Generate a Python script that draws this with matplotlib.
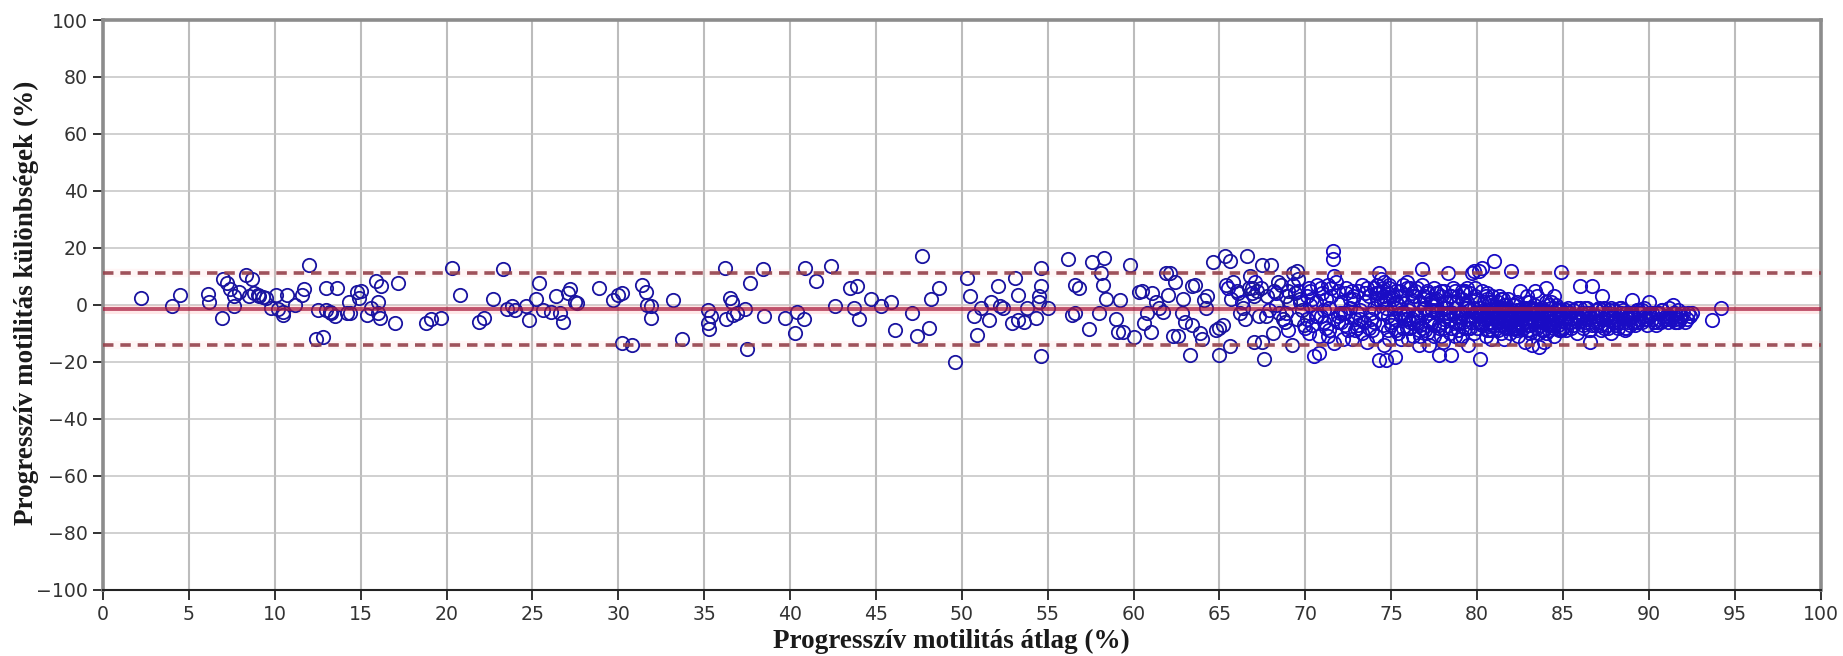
import matplotlib
matplotlib.use("Agg")
import matplotlib.pyplot as plt

x_a = [2.2,4.0,4.5,6.1,6.2,6.9,7.0,7.2,7.4,7.6,
       7.6,7.9,8.3,8.5,8.7,8.8,9.0,9.1,9.3,9.5,
       9.8,10.1,10.2,10.5,10.5,10.7,11.2,11.6,11.7,12.0,
       12.4,12.5,12.8,13.0,13.0,13.2,13.3,13.5,13.6,14.2,
       14.3,14.4,14.8,14.9,15.0,15.4,15.6,15.9,16.0,16.0,
       16.1,16.2,17.0,17.2,18.8,19.1,19.7]
y_a = [2.5,-0.5,3.5,3.8,1.0,-4.5,9.0,7.5,5.5,3,
       -0.5,4.5,10.5,3,9,4,3.3,3,2.8,2.5,
       -1,3.5,-1.5,-3.5,-2.5,3.5,0,3.5,5.5,14,
       -12,-2,-11.5,6,-2,-2.5,-3,-4,6,-3,
       1,-3,4.5,2.5,5,-3.5,-1,8.5,1,-3,
       -4.5,6.5,-6.5,7.5,-6.5,-5,-4.5]

x_b = [20.3,20.8,21.9,22.2,22.7,23.3,23.5,23.8,24.0,24.6,
       24.8,25.2,25.4,25.6,26.1,26.4,26.6,26.8,27.1,27.2,
       27.5,27.6,28.9,29.7,30.0,30.2,30.2,30.8,31.4,31.6,
       31.7,31.9,31.9,33.2,33.7,35.2,35.2,35.3,35.4,36.2,
       36.3,36.5,36.6,36.7,36.9,37.4,37.5,37.7,38.4,38.5,
       39.7,40.3,40.4,40.8,40.9,41.5,42.4,42.6,43.5,43.7,
       43.9,44.0,44.7]
y_b = [13,3.5,-6,-4.5,2,12.5,-1.5,-0.5,-2,-0.5,
       -5.5,2,7.5,-2,-2.5,3,-3,-6,4,5.5,
       1,0.5,6,1.5,3.5,4,-13.5,-14,7,4.5,
       0,-4.5,-0.5,1.5,-12,-2,-6.5,-8.5,-4,13,
       -5,2.5,1,-3.5,-3,-1.5,-15.5,7.5,12.5,-4,
       -4.5,-10,-2.5,-5,13,8.5,13.5,-0.5,6,-1,
       6.5,-5,2]

x_c = [45.3,45.9,46.1,47.1,47.4,47.7,48.1,48.2,48.7,49.6,
       50.3,50.5,50.7,50.9,51.1,51.6,51.7,52.1,52.2,52.4,
       52.9,53.1,53.3,53.3,53.6,53.8,54.3,54.5,54.5,54.6,
       54.6,54.6,55.0,56.2,56.4,56.6,56.6,56.8,57.4,57.6,
       58.0,58.1,58.2,58.3,58.4,59.0,59.1,59.2,59.4,59.8]
y_c = [-0.5,1,-9,-3,-11,17,-8,2,6,-20,
       9.5,3,-4,-10.5,-1,-5.5,1,6.5,-0.5,-1,
       -6.5,9.5,-5.5,3.5,-6,-1,-4.5,1,3,13,
       6.5,-18,-1,16,-3.5,7,-3,6,-8.5,15,
       -3,11,7,16.5,2,-5,-9.5,1.5,-9.5,14]

x_d = [60.0,60.3,60.5,60.6,60.8,61.0,61.1,61.3,61.5,61.7,
       61.9,62.0,62.1,62.3,62.4,62.6,62.8,62.9,63.0,63.3,
       63.4,63.4,63.6,63.9,64.0,64.1,64.2,64.3,64.6,64.8,
       65.0,65.0,65.2,65.3,65.6,65.6,65.8,66.0,66.2,66.5,
       66.6,66.8,66.9,67.0,67.2,67.3,67.5,67.5,67.6,67.8,
       68.0,68.1,68.3,68.5,68.6,68.9,69.0,69.2,69.3,69.5,
       69.5,69.7,69.9,65.4,65.7,66.1,66.4,66.7,67.0,67.4,
       67.7,68.2,68.4,68.7,69.1,69.4,69.6,69.8,66.9,68.8]
y_d = [-11.5,4.5,5,-6.5,-3,-9.5,4,1,-1,-2.5,
       11,3.5,11,-11,8,-11,-3,2,-6,-17.5,
       -7,6.5,7,-10,-12,1.5,-1,3,15,-9,
       -8,-17.5,-7,17,15.5,-14.5,8,5,-3,-5,
       17,10,6,-13,5,-4,14,-13,-19,3,
       14,-10,0,-3,7,3,5,-14,11,12,
       -5,2,-7,7,2,4,-1,6,3,6,
       -4,5,8,-5,1,4,9,-2,4,-6]

x_e = [70.0,70.1,70.2,70.3,70.4,70.5,70.6,70.7,70.8,70.9,
       71.0,71.1,71.2,71.3,71.4,71.5,71.6,71.6,71.7,71.7,
       71.8,71.9,72.0,72.1,72.2,72.3,72.4,72.5,72.6,72.7,
       72.8,72.9,73.0,73.1,73.2,73.3,73.4,73.5,73.6,73.7,
       73.8,73.9,74.0,74.1,74.2,74.2,74.3,74.3,74.4,74.4,
       74.5,74.5,74.6,74.6,74.7,74.7,74.8,74.8,74.9,74.9,
       70.3,70.7,71.2,71.9,72.3,72.8,73.2,73.7,74.1,74.4,
       70.1,70.9,71.4,72.1,72.6,73.0,73.5,74.0,74.6,74.8]
y_e = [-8,3,-10,5,-7,-18,1,7,-17,-4,
       4,-6,2,-11,-1,6,19,16,10,-13.5,
       8,-4,-3,1,-12,-7,4,-9,-1,-12,
       3,-5,-8,5,-2,-10,-6,1,-13,3,
       -5,-9,6,-11,7,2,11,-19.5,9,-3,
       5,-7,8,-14,-1,-19.5,4,-9,6,-12,
       0,-4,-8,5,-3,2,-5,-8,4,1,
       -5,6,-9,-6,2,-3,4,-6,3,-4]

x_f = [75.0,75.1,75.2,75.3,75.4,75.5,75.6,75.7,75.8,75.9,
       76.0,76.1,76.2,76.3,76.4,76.5,76.6,76.7,76.8,76.9,
       77.0,77.1,77.2,77.3,77.4,77.5,77.6,77.7,77.8,77.9,
       78.0,78.1,78.2,78.3,78.4,78.5,78.6,78.7,78.8,78.9,
       79.0,79.1,79.2,79.3,79.4,79.5,79.6,79.7,79.8,79.9,
       75.2,75.6,75.9,76.2,76.5,76.8,77.1,77.4,77.7,78.0,
       78.3,78.6,78.9,79.2,79.5,79.8,75.3,75.8,76.3,76.6,
       76.9,77.2,77.6,77.9,78.2,78.5,78.8,79.1,79.4,79.7,
       75.4,75.7,76.1,76.4,76.7,77.0,77.3,77.5,77.8,78.1,
       78.4,78.7,79.0,79.3,79.6,79.9,76.0,77.0,78.0,79.0]
y_f = [-7,3,-18.5,1,-10,5,-12,7,-5,8,
       -2,-8,4,-11,-4,6,-14,-7,12.5,-1,
       -9,5,-14,2,-6,-11,4,-3,-17.5,3,
       -8,5,-4,11,-10,-17.5,6,-1,-6,3,
       -12,5,-3,-8,6,-14,-2,11,-10,3,
       -5,3,-8,1,-4,7,-10,-2,4,-6,
       -3,1,-9,4,-5,12,-9,-4,3,-9,
       2,-6,0,-11,-1,-8,-4,-11,1,-6,
       0,-3,-6,5,-11,-1,-5,6,-8,-1,
       3,-11,-4,-1,-8,-3,-12,-4,-13,-6]

x_g = [80.0,80.1,80.2,80.3,80.4,80.5,80.6,80.7,80.8,80.9,
       81.0,81.1,81.2,81.3,81.4,81.5,81.6,81.7,81.8,81.9,
       82.0,82.1,82.2,82.3,82.4,82.5,82.6,82.7,82.8,82.9,
       83.0,83.1,83.2,83.3,83.4,83.5,83.6,83.7,83.8,83.9,
       84.0,84.1,84.2,84.3,84.4,84.5,84.6,84.7,84.8,84.9,
       80.2,80.5,80.8,81.1,81.4,81.7,82.0,82.3,82.6,82.9,
       83.2,83.5,83.8,84.1,84.4,84.7,80.4,80.9,81.3,81.8,
       82.2,82.7,83.1,83.6,84.0,84.5,80.1,80.7,81.2,81.6,
       82.1,82.5,83.0,83.4,83.9,84.3,84.8,80.3,80.6,81.0,
       81.5,81.9,82.4,82.8,83.3,83.7,84.2,84.6,84.9,81.1,
       81.6,82.2,82.7,83.2,83.7,84.2,84.7,80.5,81.0,81.5,
       82.0,82.5,83.0,83.5,84.0,84.5,80.8,81.4,82.3,83.4]
y_g = [-8,12,-19,13,-3,-11,4,-6,-12,1,
       15.5,-4,-9,3,-1,-7,-12,-3,2,-10,
       12,-5,0,-2,-11,5,-7,-1,-13,3,
       -5,-9,-14,0,5,-3,-15,-7,-1,-13,
       6,-4,-9,1,-6,-11,-2,-7,-4,11.5,
       -1,3,-6,-2,2,-8,-4,1,-5,-9,
       -2,3,-6,-3,-8,-1,-5,-9,-2,-6,
       -3,-8,-1,-5,-10,-3,-4,1,-6,0,
       -8,-3,-7,-2,-6,-1,-5,-7,-2,-5,
       -2,-7,-4,-1,-6,-3,-7,-5,-2,-3,
       -5,-7,-3,-5,-4,-3,-6,-4,-7,-4,
       -2,-6,-3,-8,-4,-7,-3,-6,-5,-2]

x_h = [85.0,85.1,85.2,85.3,85.4,85.5,85.6,85.7,85.8,85.9,
       86.0,86.1,86.2,86.3,86.4,86.5,86.6,86.7,86.8,86.9,
       87.0,87.1,87.2,87.3,87.4,87.5,87.6,87.7,87.8,87.9,
       88.0,88.1,88.2,88.3,88.4,88.5,88.6,88.7,88.8,88.9,
       89.0,89.1,89.2,89.3,89.4,89.5,89.6,89.7,89.8,89.9,
       90.0,90.2,90.4,90.5,90.7,90.8,91.0,91.1,91.2,91.3,
       91.4,91.5,91.6,91.7,91.8,91.9,92.0,92.1,92.2,92.3,
       92.4,92.5,93.7,94.2,85.3,85.8,86.4,87.0,87.6,88.2,
       88.8,89.4,90.1,90.6,91.0,91.5,91.9,86.0,87.3,88.5]
y_h = [-3,-6,-9,-1,-5,-8,-2,-4,-10,-6,
       6.5,-3,-8,-1,-5,-9,-13,6.5,-4,-7,
       -2,-6,-9,3,-1,-5,-8,-3,-10,-6,
       -2,-5,-8,-4,-1,-6,-9,-3,-5,-7,
       1.5,-4,-7,-2,-5,-3,-6,-1,-4,-7,
       1,-5,-7,-3,-6,-2,-4,-6,-1,-5,
       0,-3,-6,-2,-5,-4,-3,-6,-5,-3,
       -4,-3,-5.5,-1,-4,-5,-3,-6,-4,-6,
       -4,-6,-4,-5,-5,-5,-4,-5,-5,-5]

# Second pass over the crowded core, where circles overlap into solid blue
x_i = [65.5,66.3,67.1,67.9,68.3,68.9,69.3,69.7,70.2,70.6,
       71.1,71.5,71.9,72.4,72.9,73.3,73.8,74.2,74.6,75.0,
       69.0,69.6,70.4,70.8,71.3,71.7,72.2,72.7,73.1,73.6,
       74.0,74.3,74.5,74.7,74.9,75.3,75.7,76.1,76.5,76.9,
       75.1,75.5,75.9,76.3,76.7,77.1,77.5,77.9,78.3,78.7,
       79.1,79.5,79.9,77.3,77.7,78.1,78.5,78.9,79.3,79.7,
       75.2,75.6,76.0,76.4,76.8,77.2,77.6,78.0,78.4,78.8,
       79.2,79.6,80.0,80.3,80.6,80.9,81.2,81.5,81.8,82.1,
       82.4,82.7,83.0,83.3,83.6,83.9,84.2,84.5,84.8,85.1,
       80.1,80.4,80.7,81.0,81.3,81.6,81.9,82.2,82.5,82.8,
       83.1,83.4,83.7,84.0,84.3,84.6,84.9,85.2,85.5,85.8,
       80.2,80.5,80.8,81.1,81.4,81.7,82.0,82.3,82.6,82.9,
       83.2,83.5,83.8,84.1,84.4,84.7,85.0,85.3,85.6,85.9,
       80.0,80.6,81.2,81.8,82.4,83.0,83.6,84.2,84.8,85.4,
       86.0,86.3,86.6,86.9,87.2,87.5,87.8,88.1,88.4,88.7,
       86.1,86.4,86.7,87.0,87.3,87.6,87.9,88.2,88.5,88.8,
       86.2,86.5,86.8,87.1,87.4,87.7,88.0,88.3,88.6,88.9,
       89.0,89.3,89.6,89.9,90.2,90.5,90.8,91.1,91.4,91.7,
       89.1,89.4,89.7,90.0,90.3,90.6,90.9,91.2,91.5,91.8,
       77.4,78.2,79.0,79.8,80.6,81.4,82.2,83.0,83.8,84.6,
       76.2,77.0,77.8,78.6,79.4,80.2,81.0,81.8,82.6,83.4]
y_i = [6,1,8,-2,4,-3,7,1,6,-4,
       -2,3,-6,6,-9,7,-3,4,1,-6,
       -9,5,2,-11,7,-5,-3,5,-7,6,
       -1,4,6,2,7,5,-8,6,-6,3,
       2,-3,6,-6,1,4,-7,5,-3,5,
       2,-8,6,1,-2,-5,3,-9,5,-4,
       -1,1,-5,3,-8,-3,2,-3,-5,1,
       -6,4,-3,5,-5,3,-6,2,-8,0,
       -3,-8,1,-6,-2,-9,-4,3,-8,-5,
       -6,1,-9,-3,-7,-1,-5,-8,-2,-6,
       -10,-3,-6,1,-7,-4,-9,-2,-6,-1,
       -3,-7,-2,-5,-10,0,-6,-9,-3,-7,
       -1,-5,-9,-3,-7,-2,-8,-3,-7,-4,
       2,-9,1,-4,-8,-1,-10,0,-9,-6,
       -1,-6,-9,-2,-7,-4,-1,-7,-3,-8,
       -4,-1,-7,-4,-2,-7,-4,-6,-2,-6,
       -7,-3,-6,-1,-8,-2,-6,-1,-8,-3,
       -3,-6,-2,-5,-3,-6,-2,-5,-3,-6,
       -6,-2,-5,-3,-6,-3,-5,-4,-6,-4,
       -2,1,-3,-1,2,-2,-4,1,-2,0,
       -5,-1,-7,-3,-1,-4,-2,-5,-3,-6]

mean_diff = -1.5
upper_loa = 11.0
lower_loa = -14.0
x_ticks = list(range(0, 101, 5))
y_ticks = list(range(-100, 101, 20))
x_label = "Progresszív motilitás átlag (%)"
y_label = "Progresszív motilitás különbségek (%)"

W, H = 1843, 656
fig = plt.figure(figsize=(W / 100, H / 100), dpi=100)
x0, x1, ytop, ybot = 103, 1820.5, 20, 589.5
ax = fig.add_axes([x0 / W, 1 - ybot / H, (x1 - x0) / W, (ybot - ytop) / H])
ax.set_xlim(0, 100)
ax.set_ylim(-100, 100)

ax.set_xticks(x_ticks)
ax.set_yticks(y_ticks)
ax.xaxis.grid(True, color="#bcbcbc", lw=1.5, zorder=1)
ax.yaxis.grid(True, color="#c4c4c4", lw=1.1, zorder=1)
ax.set_axisbelow(True)
ax.tick_params(axis="both", labelsize=13.6, labelcolor="#333333", color="#222222",
               length=7, width=1.3, pad=4)

# Sparse circles read as navy; the overlapped core reads as saturated blue
xs_sparse = x_a + x_b + x_c + x_d
ys_sparse = y_a + y_b + y_c + y_d
xs_core = x_e + x_f + x_g + x_h + x_i
ys_core = y_e + y_f + y_g + y_h + y_i
ax.plot(xs_sparse, ys_sparse, ls="none", marker="o", ms=9.6, mfc="none",
        mec="#1a14a0", mew=1.3, zorder=3)
ax.plot(xs_core, ys_core, ls="none", marker="o", ms=9.6, mfc="none",
        mec="#1a0cc4", mew=1.3, zorder=3)

# soft halo of the limit lines, then the lines themselves over the markers
ax.axhline(mean_diff, color="#ffb4b4", lw=6.5, alpha=0.3, zorder=2)
for v in (upper_loa, lower_loa):
    ax.axhline(v, color="#ffc8c8", lw=6, alpha=0.16, zorder=2)
ax.axhline(mean_diff, color="#a81a3c", lw=2.8, alpha=0.72, zorder=4)
for v in (upper_loa, lower_loa):
    ax.axhline(v, color="#95404a", lw=2.6, ls=(0, (2.9, 1.9)), alpha=0.9, zorder=4)

for s in ("top", "right", "left"):
    ax.spines[s].set_color("#8c8c8c")
    ax.spines[s].set_linewidth(2.6)
ax.spines["bottom"].set_color("#222222")
ax.spines["bottom"].set_linewidth(1.5)

serif = {"family": "Liberation Serif", "weight": "bold", "size": 19.5, "color": "#1a1a1a"}
fig.text(951 / W, 1 - 641 / H, x_label, ha="center", va="center", **serif)
fig.text(26 / W, 1 - 303 / H, y_label, ha="center", va="center", rotation=90, **serif)

fig.savefig("out.png", dpi=100)
